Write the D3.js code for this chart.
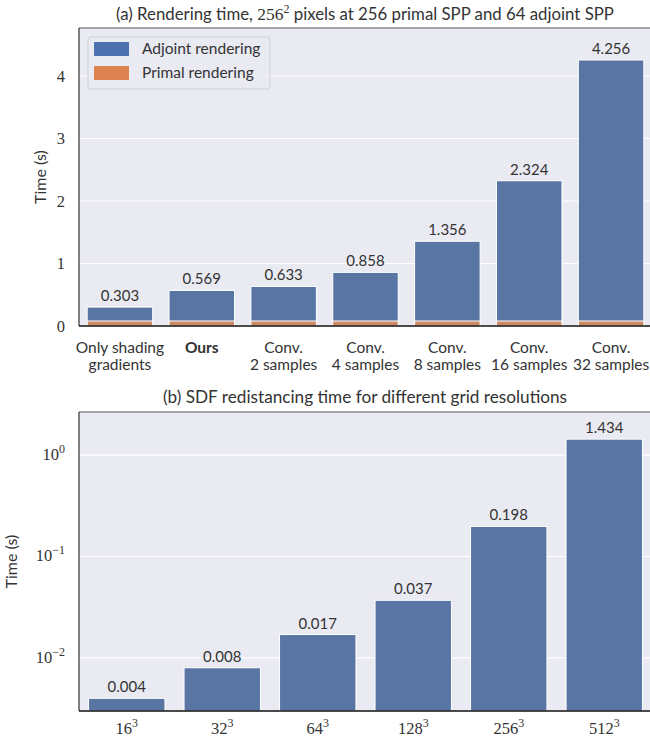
<!DOCTYPE html>
<html>
<head>
<meta charset="utf-8">
<script src="https://cdn.jsdelivr.net/npm/d3@7"></script>
<style>
  html, body { margin: 0; padding: 0; background: #ffffff; }
  svg { display: block; }
</style>
</head>
<body>
<svg id="chart" width="650" height="745"></svg>
<script>
// ---- data ----
const renderCategories = ["Only shading\ngradients", "Ours", "Conv.\n2 samples", "Conv.\n4 samples",
                          "Conv.\n8 samples", "Conv.\n16 samples", "Conv.\n32 samples"];
const adjointTimes = [0.303, 0.569, 0.633, 0.858, 1.356, 2.324, 4.256];
const primalTimes  = [0.08, 0.08, 0.08, 0.08, 0.08, 0.08, 0.08];
const renderTicks  = [0, 1, 2, 3, 4];

const gridBases = [16, 32, 64, 128, 256, 512];
const redistTimes = [0.004, 0.008, 0.017, 0.037, 0.198, 1.434];
const redistTickExps = [-2, -1, 0];

const seriesNames = ["Adjoint rendering", "Primal rendering"];

// ---- styling ----
const SANS = "Lato, 'Open Sans', sans-serif";
const SERIF = "'Liberation Serif', 'DejaVu Serif', serif";
const BG = "#eaeaf2";
const BAR_BLUE = "#5975a4", BAR_ORANGE = "#cc8963";
const LEG_BLUE = "#4c72b0", LEG_ORANGE = "#dd8452";

const svg = d3.select("#chart");

function panel(g, box) {
  g.append("rect").attr("x", box.x0).attr("y", box.y0)
    .attr("width", box.x1 - box.x0).attr("height", box.y1 - box.y0)
    .attr("fill", BG);
}
function spines(g, box) {
  g.append("line").attr("x1", box.x0).attr("x2", box.x1).attr("y1", box.y0).attr("y2", box.y0)
    .attr("stroke", "#555").attr("stroke-width", 1.2);
  g.append("line").attr("x1", box.x0).attr("x2", box.x0).attr("y1", box.y0).attr("y2", box.y1)
    .attr("stroke", "#333").attr("stroke-width", 1.2);
  g.append("line").attr("x1", box.x0).attr("x2", box.x1).attr("y1", box.y1).attr("y2", box.y1)
    .attr("stroke", "#111").attr("stroke-width", 1.4);
}
// bars occupy 80% of each slot, half a gap at each end of the axis
function bandScale(domain, box) {
  return d3.scaleBand().domain(domain).range([box.x0, box.x1]).paddingInner(0.2).paddingOuter(0.1);
}

// ===== (a) rendering time =====
const boxA = { x0: 79, x1: 652, y0: 28, y1: 326 };
const gA = svg.append("g");
panel(gA, boxA);

const xA = bandScale(renderCategories, boxA);
const yA = d3.scaleLinear().domain([0, 4.768]).range([boxA.y1, boxA.y0]);

// horizontal grid
gA.append("g").selectAll("line").data(renderTicks).join("line")
  .attr("x1", boxA.x0).attr("x2", boxA.x1)
  .attr("y1", d => yA(d)).attr("y2", d => yA(d))
  .attr("stroke", "#fff").attr("stroke-width", 1.2);

// y tick labels
gA.append("g").selectAll("text").data(renderTicks).join("text")
  .attr("x", 65).attr("y", d => yA(d)).attr("dy", "0.35em")
  .attr("text-anchor", "end").attr("font-family", SERIF).attr("font-size", 16.5)
  .attr("fill", "#333").text(d => d);

// adjoint (total) bars
gA.append("g").selectAll("rect").data(adjointTimes).join("rect")
  .attr("x", (d, i) => xA(renderCategories[i]))
  .attr("width", xA.bandwidth())
  .attr("y", d => yA(d)).attr("height", d => yA(0) - yA(d))
  .attr("fill", BAR_BLUE).attr("stroke", "#fff").attr("stroke-width", 1);

// primal bars
gA.append("g").selectAll("rect").data(primalTimes).join("rect")
  .attr("x", (d, i) => xA(renderCategories[i]))
  .attr("width", xA.bandwidth())
  .attr("y", d => yA(d)).attr("height", d => yA(0) - yA(d))
  .attr("fill", BAR_ORANGE).attr("stroke", "#fff").attr("stroke-width", 1);

// value labels
gA.append("g").selectAll("text").data(adjointTimes).join("text")
  .attr("x", (d, i) => xA(renderCategories[i]) + xA.bandwidth() / 2)
  .attr("y", d => yA(d) - 6)
  .attr("text-anchor", "middle").attr("font-family", SANS).attr("font-size", 15)
  .attr("fill", "#333").text(d => d.toFixed(3));

// category labels
const catA = gA.append("g").selectAll("text").data(renderCategories).join("text")
  .attr("x", d => xA(d) + xA.bandwidth() / 2)
  .attr("y", 353)
  .attr("text-anchor", "middle").attr("font-family", SANS).attr("font-size", 15.5)
  .attr("fill", "#333")
  .attr("font-weight", d => d === "Ours" ? "bold" : "normal");
catA.each(function (d) {
  const t = d3.select(this);
  d.split("\n").forEach((line, k) => {
    t.append("tspan").attr("x", xA(d) + xA.bandwidth() / 2).attr("dy", k === 0 ? 0 : 17).text(line);
  });
});

spines(gA, boxA);

// y axis title
gA.append("text")
  .attr("transform", `translate(46,${(boxA.y0 + boxA.y1) / 2}) rotate(-90)`)
  .attr("text-anchor", "middle").attr("font-family", SANS).attr("font-size", 16)
  .attr("fill", "#333").text("Time (s)");

// panel title
const titleA = gA.append("text").attr("x", (boxA.x0 + 651) / 2).attr("y", 20)
  .attr("text-anchor", "middle").attr("font-family", SANS).attr("font-size", 16.8).attr("fill", "#333");
titleA.append("tspan").text("(a) Rendering time, ");
titleA.append("tspan").attr("font-family", SERIF).attr("font-size", 17.5).text("256");
titleA.append("tspan").attr("font-family", SERIF).attr("font-size", 12).attr("dy", -7).text("2");
titleA.append("tspan").attr("dy", 7).text(" pixels at 256 primal SPP and 64 adjoint SPP");

// legend
const leg = gA.append("g");
leg.append("rect").attr("x", 88).attr("y", 37).attr("width", 182).attr("height", 52).attr("rx", 3)
  .attr("fill", BG).attr("fill-opacity", 0.8).attr("stroke", "#cfcfd6").attr("stroke-width", 1);
[LEG_BLUE, LEG_ORANGE].forEach((c, i) => {
  leg.append("rect").attr("x", 94).attr("y", 42 + i * 24).attr("width", 35).attr("height", 14).attr("fill", c);
  leg.append("text").attr("x", 142).attr("y", 49 + i * 24).attr("dy", "0.35em")
    .attr("font-family", SANS).attr("font-size", 15.5).attr("fill", "#333").text(seriesNames[i]);
});

// ===== (b) SDF redistancing time =====
const boxB = { x0: 79, x1: 652, y0: 412, y1: 711 };
const gB = svg.append("g");
panel(gB, boxB);

const xB = bandScale(gridBases, boxB);
const yB = d3.scaleLog().domain([0.0030, 2.655]).range([boxB.y1, boxB.y0]);

gB.append("g").selectAll("line").data(redistTickExps).join("line")
  .attr("x1", boxB.x0).attr("x2", boxB.x1)
  .attr("y1", e => yB(Math.pow(10, e))).attr("y2", e => yB(Math.pow(10, e)))
  .attr("stroke", "#fff").attr("stroke-width", 1.2);

const tickB = gB.append("g").selectAll("text").data(redistTickExps).join("text")
  .attr("x", 65).attr("y", e => yB(Math.pow(10, e)) + 5)
  .attr("text-anchor", "end").attr("font-family", SERIF).attr("font-size", 16.5).attr("fill", "#333");
tickB.append("tspan").text("10");
tickB.append("tspan").attr("font-size", 12).attr("dy", -7)
  .text(e => (e < 0 ? "\u2212" : "") + Math.abs(e));

gB.append("g").selectAll("rect").data(redistTimes).join("rect")
  .attr("x", (d, i) => xB(gridBases[i]))
  .attr("width", xB.bandwidth())
  .attr("y", d => yB(d)).attr("height", d => boxB.y1 - yB(d))
  .attr("fill", BAR_BLUE).attr("stroke", "#fff").attr("stroke-width", 1);

gB.append("g").selectAll("text").data(redistTimes).join("text")
  .attr("x", (d, i) => xB(gridBases[i]) + xB.bandwidth() / 2)
  .attr("y", d => yB(d) - 6)
  .attr("text-anchor", "middle").attr("font-family", SANS).attr("font-size", 15)
  .attr("fill", "#333").text(d => d.toFixed(3));

const catB = gB.append("g").selectAll("text").data(gridBases).join("text")
  .attr("x", d => xB(d) + xB.bandwidth() / 2).attr("y", 734)
  .attr("text-anchor", "middle").attr("font-family", SERIF).attr("font-size", 16.5).attr("fill", "#333");
catB.append("tspan").text(d => d);
catB.append("tspan").attr("font-size", 12).attr("dy", -7).text("3");

spines(gB, boxB);

gB.append("text")
  .attr("transform", `translate(17,${(boxB.y0 + boxB.y1) / 2}) rotate(-90)`)
  .attr("text-anchor", "middle").attr("font-family", SANS).attr("font-size", 16)
  .attr("fill", "#333").text("Time (s)");

gB.append("text").attr("x", (boxB.x0 + 651) / 2).attr("y", 403)
  .attr("text-anchor", "middle").attr("font-family", SANS).attr("font-size", 17.2).attr("fill", "#333")
  .text("(b) SDF redistancing time for different grid resolutions");
</script>
</body>
</html>
